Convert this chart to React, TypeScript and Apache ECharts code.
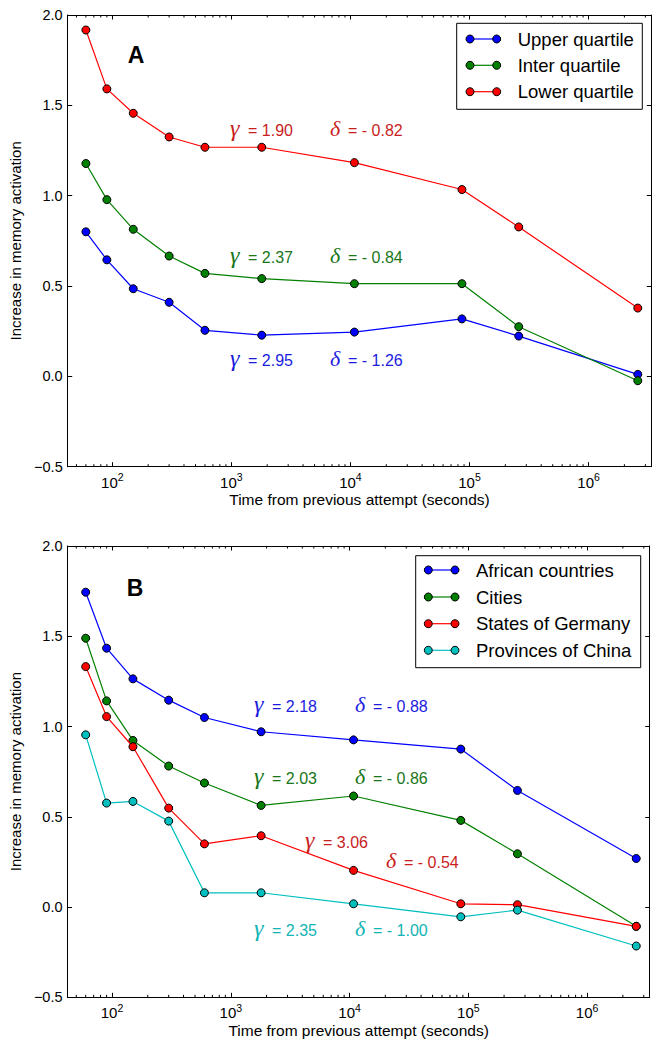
import React, { useEffect, useRef } from "react";
import * as echarts from "echarts";

// ---------- data ----------
const times = [60, 90, 150, 300, 600, 1800, 10800, 86400, 259200, 2592000];

// Panel A
const upperQuartile = [0.8, 0.645, 0.485, 0.41, 0.255, 0.228, 0.245, 0.318, 0.223, 0.011];
const interQuartile = [1.178, 0.978, 0.814, 0.666, 0.57, 0.541, 0.513, 0.513, 0.275, -0.024];
const lowerQuartile = [1.917, 1.591, 1.456, 1.325, 1.268, 1.268, 1.183, 1.034, 0.827, 0.378];

// Panel B
const africanCountries = [1.744, 1.434, 1.264, 1.146, 1.05, 0.971, 0.926, 0.875, 0.646, 0.269];
const cities = [1.489, 1.142, 0.923, 0.781, 0.687, 0.563, 0.615, 0.48, 0.295, -0.107];
const statesOfGermany = [1.332, 1.055, 0.888, 0.548, 0.35, 0.395, 0.203, 0.018, 0.013, -0.107];
const provincesOfChina = [0.954, 0.576, 0.585, 0.476, 0.079, 0.079, 0.018, -0.054, -0.017, -0.216];

const seriesNamesA = ["Upper quartile", "Inter quartile", "Lower quartile"];
const seriesNamesB = ["African countries", "Cities", "States of Germany", "Provinces of China"];

const minorTickValues = [
  50, 60, 70, 80, 90,
  200, 300, 400, 500, 600, 700, 800, 900,
  2000, 3000, 4000, 5000, 6000, 7000, 8000, 9000,
  20000, 30000, 40000, 50000, 60000, 70000, 80000, 90000,
  200000, 300000, 400000, 500000, 600000, 700000, 800000, 900000,
  2000000, 3000000,
];

const yTicks = { min: -0.5, max: 2.0, interval: 0.5 };
const xRange = { min: 42.2, max: 3365000 };

// annotation texts
const annotationsA = [
  { g: "γ", t: "= 1.90", d: "δ", u: "= - 0.82", color: "#c81e1e" },
  { g: "γ", t: "= 2.37", d: "δ", u: "= - 0.84", color: "#1a761a" },
  { g: "γ", t: "= 2.95", d: "δ", u: "= - 1.26", color: "#1c1ce0" },
];
const annotationsB = [
  { g: "γ", t: "= 2.18", d: "δ", u: "= - 0.88", color: "#1c1ce0" },
  { g: "γ", t: "= 2.03", d: "δ", u: "= - 0.86", color: "#1a761a" },
  { g: "γ", t: "= 3.06", d: "δ", u: "= - 0.54", color: "#c81e1e" },
  { g: "γ", t: "= 2.35", d: "δ", u: "= - 1.00", color: "#12b4b4" },
];

// ---------- styling ----------
const SANS = '"Liberation Sans", Arial, Helvetica, sans-serif';
const SERIF = '"Liberation Serif", "DejaVu Serif", serif';
const colorsA = ["#0000ff", "#008000", "#ff0000"];
const colorsB = ["#0000ff", "#008000", "#ff0000", "#00bfbf"];

const grids = [
  { left: 67.7, top: 15, width: 583.6, height: 451.7 },
  { left: 66.3, top: 546, width: 583.4, height: 451.3 },
];

function xLabel(v: number) {
  const e = Math.log10(v);
  if (Math.abs(e - Math.round(e)) > 1e-6) return "";
  return "{b|10}{s|" + Math.round(e) + "}";
}
function yLabel(v: number) {
  const s = Math.abs(v).toFixed(1);
  return v < -1e-9 ? "\u2212" + s : s;
}

const axisLineStyle = { show: true, onZero: false, lineStyle: { color: "#000", width: 1 } };

function makeXAxes(gi: number) {
  const base = {
    type: "log",
    logBase: 10,
    min: xRange.min,
    max: xRange.max,
    gridIndex: gi,
    splitLine: { show: false },
    axisLine: axisLineStyle,
    axisTick: { show: true, inside: true, length: 4.5, lineStyle: { color: "#000", width: 1 } },
    minorTick: { show: false },
  };
  return [
    {
      ...base,
      position: "bottom",
      name: "Time from previous attempt (seconds)",
      nameLocation: "middle",
      nameGap: 25,
      nameTextStyle: { fontSize: 15.5, color: "#000", fontFamily: SANS },
      axisLabel: {
        show: true,
        margin: 5,
        formatter: xLabel,
        rich: {
          b: { fontSize: 15, fontFamily: SANS, color: "#000", lineHeight: 18, verticalAlign: "bottom" },
          s: { fontSize: 10.5, fontFamily: SANS, color: "#000", lineHeight: 18, verticalAlign: "top" },
        },
      },
    },
    { ...base, position: "top", axisLabel: { show: false } },
  ];
}

function makeYAxes(gi: number) {
  const base = {
    type: "value",
    min: yTicks.min,
    max: yTicks.max,
    interval: yTicks.interval,
    gridIndex: gi,
    splitLine: { show: false },
    axisLine: axisLineStyle,
    axisTick: { show: true, inside: true, length: 4.5, lineStyle: { color: "#000", width: 1 } },
  };
  return [
    {
      ...base,
      position: "left",
      name: "Increase in memory activation",
      nameLocation: "middle",
      nameGap: 39,
      nameTextStyle: { fontSize: 15, color: "#000", fontFamily: SANS },
      axisLabel: { show: true, margin: 5, formatter: yLabel, fontSize: 14.5, color: "#000", fontFamily: SANS },
    },
    { ...base, position: "right", axisLabel: { show: false } },
  ];
}

function lineSeries(name: string, values: number[], color: string, gi: number, z: number) {
  return {
    type: "line",
    name,
    xAxisIndex: gi * 2,
    yAxisIndex: gi * 2,
    data: times.map((t, i) => [t, values[i]]),
    symbol: "circle",
    symbolSize: 8,
    showSymbol: true,
    lineStyle: { color, width: 1.2 },
    itemStyle: { color, borderColor: "#000", borderWidth: 1 },
    z,
    silent: true,
  };
}

function minorTickSeries(gi: number) {
  return {
    type: "custom",
    xAxisIndex: gi * 2,
    yAxisIndex: gi * 2,
    data: minorTickValues.map((v) => [v, 0]),
    encode: { x: 0, y: 1 },
    silent: true,
    z: 1,
    renderItem: (params: any, api: any) => {
      const x = api.coord([api.value(0), 0])[0];
      const cs = params.coordSys;
      const b = cs.y + cs.height;
      return {
        type: "group",
        children: [
          { type: "line", shape: { x1: x, y1: b, x2: x, y2: b - 2.5 }, style: { stroke: "#000", lineWidth: 1 } },
          { type: "line", shape: { x1: x, y1: cs.y, x2: x, y2: cs.y + 2.5 }, style: { stroke: "#000", lineWidth: 1 } },
        ],
      };
    },
  };
}

function legendGraphic(
  names: string[],
  colors: string[],
  box: { x: number; y: number; w: number; h: number },
  rowYs: number[],
  lineX1: number,
  lineX2: number,
  textX: number
) {
  const els: any[] = [
    {
      type: "rect",
      z: 100,
      shape: { x: box.x, y: box.y, width: box.w, height: box.h },
      style: { fill: "#fff", stroke: "#000", lineWidth: 1 },
    },
  ];
  names.forEach((n, i) => {
    const y = rowYs[i];
    els.push({
      type: "line",
      z: 101,
      shape: { x1: lineX1, y1: y, x2: lineX2, y2: y },
      style: { stroke: colors[i], lineWidth: 1.2 },
    });
    [lineX1, lineX2].forEach((cx) =>
      els.push({
        type: "circle",
        z: 102,
        shape: { cx, cy: y, r: 4 },
        style: { fill: colors[i], stroke: "#000", lineWidth: 1 },
      })
    );
    els.push({
      type: "text",
      z: 102,
      style: { text: n, x: textX, y, fill: "#000", fontSize: 18.5, fontFamily: SANS, verticalAlign: "middle", align: "left" },
    });
  });
  return els;
}

function annotationGraphic(
  a: { g: string; t: string; d: string; u: string; color: string },
  gx: number,
  gy: number,
  dx: number,
  dy: number
) {
  const mk = (greek: string, txt: string, x: number, y: number, size: number) => [
    {
      type: "text",
      z: 50,
      style: {
        text: greek,
        x,
        y: y - 1,
        fill: a.color,
        fontSize: size,
        fontFamily: SERIF,
        fontStyle: "italic",
        verticalAlign: "middle",
        align: "left",
      },
    },
    {
      type: "text",
      z: 50,
      style: {
        text: txt,
        x: x + 18,
        y: y + 1,
        fill: a.color,
        fontSize: 16,
        fontFamily: SANS,
        verticalAlign: "middle",
        align: "left",
      },
    },
  ];
  return [...mk(a.g, a.t, gx, gy, 24), ...mk(a.d, a.u, dx, dy, 22)];
}

export default function App() {
  const ref = useRef<HTMLDivElement>(null);
  useEffect(() => {
    if (!ref.current) return;
    const chart = echarts.init(ref.current, null, { renderer: "svg" });

    const annPosA = [
      [230, 129, 330, 129],
      [230, 256, 330, 256],
      [230, 359, 330, 359],
    ];
    const annPosB = [
      [254, 705, 355, 705],
      [254, 777, 355, 777],
      [305, 841, 386, 861],
      [254, 929, 355, 929],
    ];

    const graphic: any[] = [
      {
        type: "text",
        z: 50,
        style: { text: "A", x: 136, y: 55, fill: "#000", fontSize: 23, fontWeight: "bold", fontFamily: SANS, align: "center", verticalAlign: "middle" },
      },
      {
        type: "text",
        z: 50,
        style: { text: "B", x: 135, y: 588, fill: "#000", fontSize: 23, fontWeight: "bold", fontFamily: SANS, align: "center", verticalAlign: "middle" },
      },
      ...legendGraphic(seriesNamesA, colorsA, { x: 456.7, y: 23.3, w: 185.6, h: 86 }, [39, 65.3, 91.7], 470, 496.7, 517.7),
      ...legendGraphic(seriesNamesB, colorsB, { x: 415.7, y: 555.7, w: 225, h: 112 }, [570, 597, 623.7, 650.3], 428.3, 455, 476),
    ];
    annotationsA.forEach((a, i) => graphic.push(...annotationGraphic(a, annPosA[i][0], annPosA[i][1], annPosA[i][2], annPosA[i][3])));
    annotationsB.forEach((a, i) => graphic.push(...annotationGraphic(a, annPosB[i][0], annPosB[i][1], annPosB[i][2], annPosB[i][3])));

    const option: any = {
      animation: false,
      backgroundColor: "#fff",
      textStyle: { fontFamily: SANS },
      grid: grids.map((g) => ({ ...g, containLabel: false })),
      xAxis: [...makeXAxes(0), ...makeXAxes(1)],
      yAxis: [...makeYAxes(0), ...makeYAxes(1)],
      series: [
        minorTickSeries(0),
        minorTickSeries(1),
        lineSeries(seriesNamesA[0], upperQuartile, colorsA[0], 0, 2),
        lineSeries(seriesNamesA[1], interQuartile, colorsA[1], 0, 3),
        lineSeries(seriesNamesA[2], lowerQuartile, colorsA[2], 0, 4),
        lineSeries(seriesNamesB[0], africanCountries, colorsB[0], 1, 2),
        lineSeries(seriesNamesB[1], cities, colorsB[1], 1, 3),
        lineSeries(seriesNamesB[2], statesOfGermany, colorsB[2], 1, 4),
        lineSeries(seriesNamesB[3], provincesOfChina, colorsB[3], 1, 5),
      ],
      graphic,
    };
    chart.setOption(option);
    return () => chart.dispose();
  }, []);

  return (
    <div
      ref={ref}
      style={{ position: "absolute", left: 0, top: 0, width: 657, height: 1044, background: "#fff" }}
    />
  );
}
